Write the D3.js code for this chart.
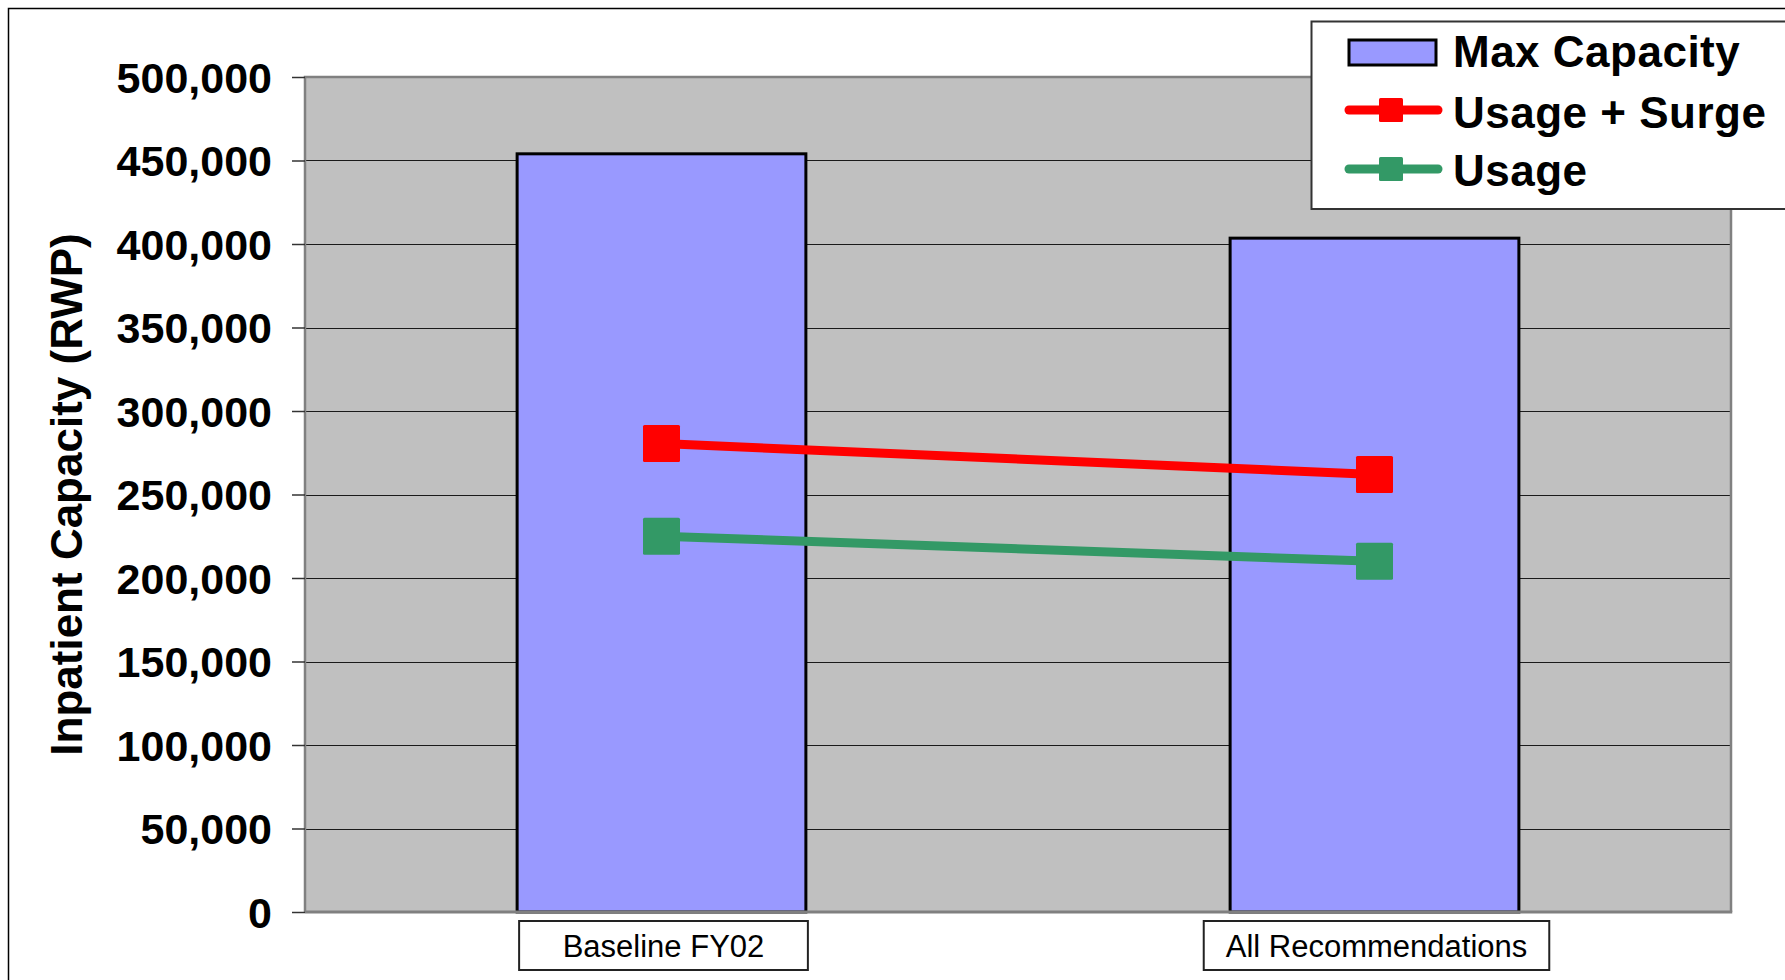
<!DOCTYPE html>
<html>
<head>
<meta charset="utf-8">
<script src="https://cdn.jsdelivr.net/npm/d3@7"></script>
<style>
  html, body { margin: 0; padding: 0; background: #fff; }
  svg { display: block; }
  text { font-family: "Liberation Sans", Arial, sans-serif; }
</style>
</head>
<body>
<div id="chart"></div>
<script>
const categories = ["Baseline FY02", "All Recommendations"];
const maxCapacity = [454000, 403500];
const usageSurge = [280500, 262000];
const usage = [225000, 210000];
const yTicks = [0, 50000, 100000, 150000, 200000, 250000, 300000, 350000, 400000, 450000, 500000];
const seriesNames = ["Max Capacity", "Usage + Surge", "Usage"];
const yTitle = "Inpatient Capacity (RWP)";

const W = 1785, H = 980;
const plot = { left: 305, right: 1731, top: 77, bottom: 912 };

const svg = d3.select("#chart").append("svg")
  .attr("width", W).attr("height", H);

svg.append("rect").attr("width", W).attr("height", H).attr("fill", "#fff");
// outer chart border
svg.append("rect").attr("x", 8.5).attr("y", 8.5).attr("width", W + 50).attr("height", H + 50)
  .attr("fill", "none").attr("stroke", "#000").attr("stroke-width", 1.5);

const x = d3.scaleBand().domain(categories).range([plot.left, plot.right]).padding(0);
const y = d3.scaleLinear().domain([0, 500000]).range([plot.bottom, plot.top]);

// plot area
svg.append("rect").attr("x", plot.left).attr("y", plot.top)
  .attr("width", plot.right - plot.left).attr("height", plot.bottom - plot.top)
  .attr("fill", "#c0c0c0");

// gridlines
svg.append("g").selectAll("line").data(yTicks.filter(t => t > 0 && t < 500000)).join("line")
  .attr("x1", plot.left).attr("x2", plot.right)
  .attr("y1", d => Math.round(y(d)) + 0.5).attr("y2", d => Math.round(y(d)) + 0.5)
  .attr("stroke", "#1a1a1a").attr("stroke-width", 1.2);

// plot border (left, top, right)
svg.append("path")
  .attr("d", `M${plot.left},${plot.bottom} V${plot.top} H${plot.right} V${plot.bottom}`)
  .attr("fill", "none").attr("stroke", "#808080").attr("stroke-width", 2.5);

// y axis
const yAxis = d3.axisLeft(y).tickValues(yTicks).tickFormat(d3.format(",")).tickSize(13).tickPadding(20);
const gy = svg.append("g").attr("transform", `translate(${plot.left},0)`).call(yAxis);
gy.select(".domain").remove();
gy.selectAll(".tick line").attr("stroke", "#333").attr("stroke-width", 1.5);
gy.selectAll(".tick text")
  .attr("font-size", 43).attr("font-weight", "bold").attr("fill", "#000")
  .attr("font-family", "'Liberation Sans', Arial, sans-serif")
  .attr("dy", "0.36em");

// y title
svg.append("text")
  .attr("transform", `translate(82,${(plot.top + plot.bottom) / 2}) rotate(-90)`)
  .attr("text-anchor", "middle")
  .attr("font-size", 44).attr("font-weight", "bold").attr("fill", "#000")
  .text(yTitle);

// bars
const barW = x.bandwidth() * 0.405;
const cx = d => x(d) + x.bandwidth() / 2;
svg.append("g").selectAll("rect").data(categories.map((c, i) => ({ c, v: maxCapacity[i] }))).join("rect")
  .attr("x", d => cx(d.c) - barW / 2)
  .attr("y", d => y(d.v))
  .attr("width", barW)
  .attr("height", d => y(0) - y(d.v))
  .attr("fill", "#9999ff").attr("stroke", "#000").attr("stroke-width", 3);

// x axis baseline
svg.append("line").attr("x1", plot.left).attr("x2", plot.right + 1.25)
  .attr("y1", plot.bottom).attr("y2", plot.bottom)
  .attr("stroke", "#808080").attr("stroke-width", 3);

// lines
const lineSeries = [
  { name: seriesNames[1], values: usageSurge, color: "#ff0000" },
  { name: seriesNames[2], values: usage, color: "#339966" }
];
const lineGen = d3.line().x(d => cx(d.c)).y(d => y(d.v));
const mk = 37;
lineSeries.forEach(s => {
  const pts = categories.map((c, i) => ({ c, v: s.values[i] }));
  svg.append("path").datum(pts).attr("d", lineGen)
    .attr("fill", "none").attr("stroke", s.color).attr("stroke-width", 9);
  svg.append("g").selectAll("rect").data(pts).join("rect")
    .attr("x", d => cx(d.c) - mk / 2).attr("y", d => y(d.v) - mk / 2)
    .attr("width", mk).attr("height", mk).attr("rx", 1.5)
    .attr("fill", s.color);
});

// category label boxes
const catG = svg.append("g");
categories.forEach(c => {
  const g = catG.append("g");
  const t = g.append("text").attr("x", cx(c) + 2).attr("y", 957)
    .attr("text-anchor", "middle").attr("font-size", 31).attr("fill", "#000").text(c);
  const tw = t.node().getComputedTextLength();
  const bw = Math.max(tw + 44, barW);
  g.insert("rect", "text").attr("x", cx(c) + 2 - bw / 2).attr("y", 921)
    .attr("width", bw).attr("height", 49)
    .attr("fill", "#fff").attr("stroke", "#222").attr("stroke-width", 2);
});

// legend
const lg = svg.append("g");
lg.append("rect").attr("x", 1311.5).attr("y", 21.5).attr("width", 600).attr("height", 187.5)
  .attr("fill", "#fff").attr("stroke", "#333").attr("stroke-width", 2);
lg.append("rect").attr("x", 1349).attr("y", 40).attr("width", 87).attr("height", 25)
  .attr("fill", "#9999ff").attr("stroke", "#000").attr("stroke-width", 3);
const legendRows = [
  { name: seriesNames[0], baseline: 67 },
  { name: seriesNames[1], baseline: 128, color: "#ff0000", cy: 110 },
  { name: seriesNames[2], baseline: 186, color: "#339966", cy: 169 }
];
legendRows.forEach(r => {
  if (r.color) {
    lg.append("line").attr("x1", 1349).attr("x2", 1438).attr("y1", r.cy).attr("y2", r.cy)
      .attr("stroke", r.color).attr("stroke-width", 9).attr("stroke-linecap", "round");
    lg.append("rect").attr("x", 1379).attr("y", r.cy - 12).attr("width", 24).attr("height", 24)
      .attr("rx", 1.5).attr("fill", r.color);
  }
  lg.append("text").attr("x", 1453).attr("y", r.baseline)
    .attr("font-size", 44).attr("font-weight", "bold").attr("fill", "#000")
    .attr("letter-spacing", 0.5).text(r.name);
});
</script>
</body>
</html>
